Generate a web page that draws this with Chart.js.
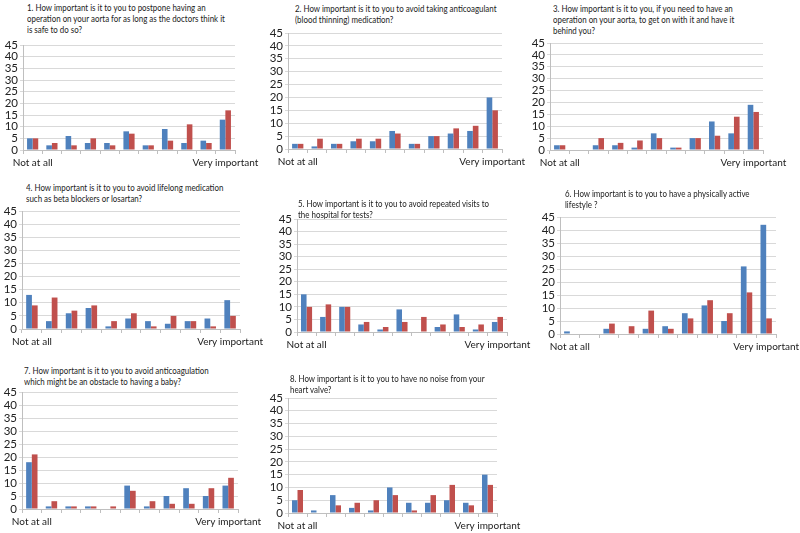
<!DOCTYPE html>
<html>
<head>
<meta charset="utf-8">
<script src="https://cdn.jsdelivr.net/npm/chart.js@4/dist/chart.umd.min.js"></script>
<style>
  html, body { margin: 0; padding: 0; background: #fff; }
  #page { position: relative; width: 800px; height: 533px; overflow: hidden; }
  canvas { position: absolute; }
  .title { position: absolute; font-family: Lato, "Liberation Sans", sans-serif; font-size: 9px; line-height: 11px; color: #222; white-space: nowrap; transform: scaleX(0.88); transform-origin: left top; }
</style>
</head>
<body>
<div id="page"></div>
<script>
// Scale labels (11 points, only the ends are named)
const categories = ['Not at all', '', '', '', '', '', '', '', '', '', 'Very important'];
const yTicks = [0, 5, 10, 15, 20, 25, 30, 35, 40, 45];

// Two series per question: blue and red
const q1Blue = [5, 2, 6, 3, 3, 8, 2, 9, 3, 4, 13];
const q1Red  = [5, 3, 2, 5, 2, 7, 2, 4, 11, 3, 17];
const q2Blue = [2, 1, 2, 3, 3, 7, 2, 5, 6, 7, 20];
const q2Red  = [2, 4, 2, 4, 4, 6, 2, 5, 8, 9, 15];
const q3Blue = [2, 0, 2, 2, 1, 7, 1, 5, 12, 7, 19];
const q3Red  = [2, 0, 5, 3, 4, 5, 1, 5, 6, 14, 16];
const q4Blue = [13, 3, 6, 8, 1, 4, 3, 2, 3, 4, 11];
const q4Red  = [9, 12, 7, 9, 3, 6, 1, 5, 3, 1, 5];
const q5Blue = [15, 6, 10, 3, 1, 9, 0, 2, 7, 1, 4];
const q5Red  = [10, 11, 10, 4, 2, 4, 6, 3, 2, 3, 6];
const q6Blue = [1, 0, 2, 0, 2, 3, 8, 11, 5, 26, 42];
const q6Red  = [0, 0, 4, 3, 9, 2, 6, 13, 8, 16, 6];
const q7Blue = [18, 1, 1, 1, 0, 9, 1, 5, 8, 5, 9];
const q7Red  = [21, 3, 1, 1, 1, 7, 3, 2, 2, 8, 12];
const q8Blue = [5, 1, 7, 2, 1, 10, 4, 4, 5, 4, 15];
const q8Red  = [9, 0, 3, 4, 5, 7, 1, 7, 11, 3, 11];

const titles = [
  ['1. How important is it to you to postpone having an', 'operation on your aorta for as long as the doctors think it', 'is safe to do so?'],
  ['2. How important is it to you to avoid taking anticoagulant', '(blood thinning) medication?'],
  ['3. How important is it to you, if you need to have an', 'operation on your aorta, to get on with it and have it', 'behind you?'],
  ['4. How important is it to you to avoid lifelong medication', 'such as beta blockers or losartan?'],
  ['5. How important is it to you to avoid repeated visits to', 'the hospital for tests?'],
  ['6. How important is to you to have a physically active', 'lifestyle ?'],
  ['7. How important is it to you to avoid anticoagulation', 'which might be an obstacle to having a baby?'],
  ['8. How important is it to you to have no noise from your', 'heart valve?']
];

const blueSeries = [q1Blue, q2Blue, q3Blue, q4Blue, q5Blue, q6Blue, q7Blue, q8Blue];
const redSeries = [q1Red, q2Red, q3Red, q4Red, q5Red, q6Red, q7Red, q8Red];

// Plot area per panel: axis x, right x, top (45) y, bottom (0) y, title x / first line y
const panels = [
  { x0: 23, x1: 235, yTop: 45, yBot: 150, tx: 27, ty: 2 },
  { x0: 288, x1: 502, yTop: 33, yBot: 149, tx: 295, ty: 3 },
  { x0: 550, x1: 763, yTop: 43, yBot: 150, tx: 553, ty: 3 },
  { x0: 22, x1: 240, yTop: 211, yBot: 329, tx: 26, ty: 182 },
  { x0: 297, x1: 507, yTop: 219, yBot: 332, tx: 298, ty: 198 },
  { x0: 560, x1: 776, yTop: 217, yBot: 334, tx: 565, ty: 188 },
  { x0: 22, x1: 238, yTop: 392, yBot: 509, tx: 24, ty: 365 },
  { x0: 288, x1: 497, yTop: 398, yBot: 513, tx: 290, ty: 373 }
];

const AXIS_W = 24, PAD_TOP = 8, X_AXIS_H = 24, PAD_RIGHT = 34;
const page = document.getElementById('page');

panels.forEach((p, i) => {
  const t = document.createElement('div');
  t.className = 'title';
  t.style.left = p.tx + 'px';
  t.style.top = p.ty + 'px';
  t.innerHTML = titles[i].join('<br>');
  page.appendChild(t);

  const w = (p.x1 - p.x0) + AXIS_W + PAD_RIGHT;
  const h = (p.yBot - p.yTop) + PAD_TOP + X_AXIS_H;
  const cv = document.createElement('canvas');
  cv.width = w;
  cv.height = h;
  cv.style.left = (p.x0 - AXIS_W) + 'px';
  cv.style.top = (p.yTop - PAD_TOP) + 'px';
  cv.style.width = w + 'px';
  cv.style.height = h + 'px';
  page.appendChild(cv);

  new Chart(cv.getContext('2d'), {
    type: 'bar',
    data: {
      labels: categories,
      datasets: [
        { data: blueSeries[i], backgroundColor: '#4f81bd', borderWidth: 0 },
        { data: redSeries[i], backgroundColor: '#c0504d', borderWidth: 0 }
      ]
    },
    options: {
      responsive: false,
      animation: false,
      devicePixelRatio: 1,
      categoryPercentage: 0.58,
      barPercentage: 1.0,
      layout: { padding: { top: PAD_TOP, right: PAD_RIGHT, left: 0, bottom: 0 } },
      plugins: { legend: { display: false }, tooltip: { enabled: false } },
      scales: {
        x: {
          grid: { drawOnChartArea: false, drawTicks: true, tickLength: 4, color: '#bfbfbf' },
          border: { color: '#bfbfbf' },
          ticks: {
            autoSkip: false, maxRotation: 0, minRotation: 0, padding: 3,
            color: '#222', font: { family: 'Lato', size: 10 }
          },
          afterFit: s => { s.height = X_AXIS_H; s.paddingLeft = 0; s.paddingRight = 0; }
        },
        y: {
          min: 0,
          max: 45,
          afterBuildTicks: s => { s.ticks = yTicks.map(v => ({ value: v })); },
          grid: { color: '#d9d9d9', tickLength: 3, drawTicks: true },
          border: { color: '#bfbfbf' },
          ticks: { autoSkip: false, padding: 2, color: '#222', font: { family: 'Lato', size: 11.5 } },
          afterFit: s => { s.width = AXIS_W; s.paddingTop = 0; s.paddingBottom = 0; }
        }
      }
    }
  });
});
</script>
</body>
</html>
